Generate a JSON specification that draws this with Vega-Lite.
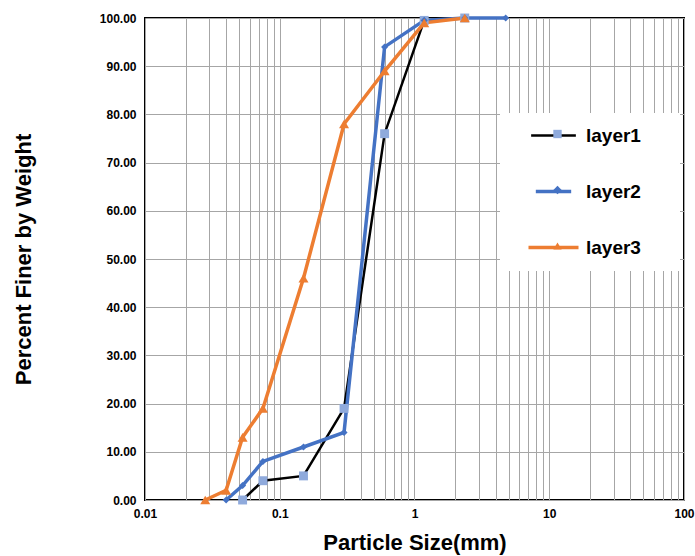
{
  "$schema": "https://vega.github.io/schema/vega-lite/v6.json",
  "width": 539,
  "height": 482,
  "autosize": "none",
  "padding": {"left": 145, "top": 18, "right": 11, "bottom": 56},
  "background": "white",
  "config": {
    "font": "Liberation Sans",
    "view": {"stroke": "black", "strokeWidth": 2}
  },
  "data": {
    "values": [
      {"layer": "layer1", "size": 0.053, "pct": 0},
      {"layer": "layer1", "size": 0.075, "pct": 4},
      {"layer": "layer1", "size": 0.15, "pct": 5},
      {"layer": "layer1", "size": 0.3, "pct": 19},
      {"layer": "layer1", "size": 0.6, "pct": 76},
      {"layer": "layer1", "size": 1.18, "pct": 99.5},
      {"layer": "layer1", "size": 2.36, "pct": 100},
      {"layer": "layer2", "size": 0.04, "pct": 0},
      {"layer": "layer2", "size": 0.053, "pct": 3},
      {"layer": "layer2", "size": 0.075, "pct": 8},
      {"layer": "layer2", "size": 0.15, "pct": 11},
      {"layer": "layer2", "size": 0.3, "pct": 14},
      {"layer": "layer2", "size": 0.6, "pct": 94},
      {"layer": "layer2", "size": 1.18, "pct": 99.5},
      {"layer": "layer2", "size": 2.36, "pct": 100},
      {"layer": "layer2", "size": 4.75, "pct": 100},
      {"layer": "layer3", "size": 0.028, "pct": 0},
      {"layer": "layer3", "size": 0.04, "pct": 2},
      {"layer": "layer3", "size": 0.053, "pct": 13},
      {"layer": "layer3", "size": 0.075, "pct": 19},
      {"layer": "layer3", "size": 0.15, "pct": 46},
      {"layer": "layer3", "size": 0.3, "pct": 78},
      {"layer": "layer3", "size": 0.6, "pct": 89},
      {"layer": "layer3", "size": 1.18, "pct": 99},
      {"layer": "layer3", "size": 2.36, "pct": 100}
    ]
  },
  "encoding": {
    "x": {
      "field": "size",
      "type": "quantitative",
      "scale": {"type": "log", "domain": [0.01, 100], "nice": false},
      "axis": {
        "values": [0.01, 0.02, 0.03, 0.04, 0.05, 0.06, 0.07, 0.08, 0.09, 0.1, 0.2, 0.3, 0.4, 0.5, 0.6, 0.7, 0.8, 0.9, 1, 2, 3, 4, 5, 6, 7, 8, 9, 10, 20, 30, 40, 50, 60, 70, 80, 90, 100],
        "labelExpr": "datum.value == 0.01 ? '0.01' : datum.value == 0.1 ? '0.1' : datum.value == 1 ? '1' : datum.value == 10 ? '10' : datum.value == 100 ? '100' : ''",
        "labelOverlap": false,
        "labelBound": false,
        "labelFlush": false,
        "grid": true,
        "gridColor": "#a6a6a6",
        "gridWidth": 1,
        "ticks": false,
        "domain": false,
        "labelFontSize": 12,
        "labelFontWeight": "bold",
        "labelColor": "black",
        "labelPadding": 8,
        "title": "Particle Size(mm)",
        "titleFontSize": 22,
        "titleFontWeight": "bold",
        "titleColor": "black",
        "titleX": 269.5,
        "titleY": 42,
        "titleBaseline": "middle",
        "titleAlign": "center"
      }
    },
    "y": {
      "field": "pct",
      "type": "quantitative",
      "scale": {"domain": [0, 100], "nice": false},
      "axis": {
        "values": [0, 10, 20, 30, 40, 50, 60, 70, 80, 90, 100],
        "format": ".2f",
        "grid": true,
        "gridColor": "#a6a6a6",
        "gridWidth": 1,
        "ticks": false,
        "domain": false,
        "labelFontSize": 12,
        "labelFontWeight": "bold",
        "labelColor": "black",
        "labelPadding": 9,
        "labelOverlap": false,
        "labelFlush": false,
        "title": "Percent Finer by Weight",
        "titleFontSize": 22,
        "titleFontWeight": "bold",
        "titleColor": "black",
        "titleX": -122,
        "titleY": 241,
        "titleAngle": -90,
        "titleBaseline": "middle",
        "titleAlign": "center"
      }
    }
  },
  "layer": [
    {
      "mark": {"type": "line"},
      "encoding": {
        "stroke": {
          "field": "layer",
          "type": "nominal",
          "scale": {"domain": ["layer1", "layer2", "layer3"], "range": ["#000000", "#4472C4", "#ED7D31"]},
          "legend": {
            "orient": "none",
            "legendX": 355,
            "legendY": 95,
            "title": "\u00a0",
            "titleOrient": "right",
            "titleFontSize": 2,
            "titlePadding": 26,
            "symbolType": "M-5,0H5",
            "symbolStrokeWidth": 3.5,
            "symbolOffset": 31,
            "labelFontSize": 19,
            "labelFontWeight": "bold",
            "labelColor": "black",
            "labelOffset": 23,
            "rowPadding": 36,
            "padding": 13,
            "fillColor": "white",
            "zindex": 0
          }
        },
        "strokeWidth": {
          "field": "layer",
          "type": "ordinal",
          "scale": {"type": "ordinal", "domain": ["layer1", "layer2", "layer3"], "range": [2.5, 3.5, 3.5]},
          "legend": null
        }
      }
    },
    {
      "mark": {"type": "point", "filled": true, "opacity": 1, "strokeWidth": 0},
      "encoding": {
        "fill": {
          "field": "layer",
          "type": "nominal",
          "scale": {"range": ["#8FAADC", "#4472C4", "#ED7D31"]},
          "legend": {
            "orient": "none",
            "legendX": 403,
            "legendY": 106.5,
            "title": null,
            "symbolSize": 70,
            "symbolStrokeWidth": 0,
            "labelFontSize": 19,
            "labelExpr": "''",
            "rowPadding": 36,
            "padding": 0,
            "zindex": 1
          }
        },
        "shape": {
          "field": "layer",
          "type": "nominal",
          "scale": {"range": ["square", "diamond", "triangle-up"]},
          "legend": {
            "orient": "none",
            "legendX": 403,
            "legendY": 106.5,
            "title": null,
            "symbolSize": 70,
            "symbolStrokeWidth": 0,
            "labelFontSize": 19,
            "labelExpr": "''",
            "rowPadding": 36,
            "padding": 0,
            "zindex": 1
          }
        },
        "size": {
          "field": "layer",
          "type": "ordinal",
          "scale": {"type": "ordinal", "domain": ["layer1", "layer2", "layer3"], "range": [80, 50, 100]},
          "legend": null
        }
      }
    }
  ]
}
